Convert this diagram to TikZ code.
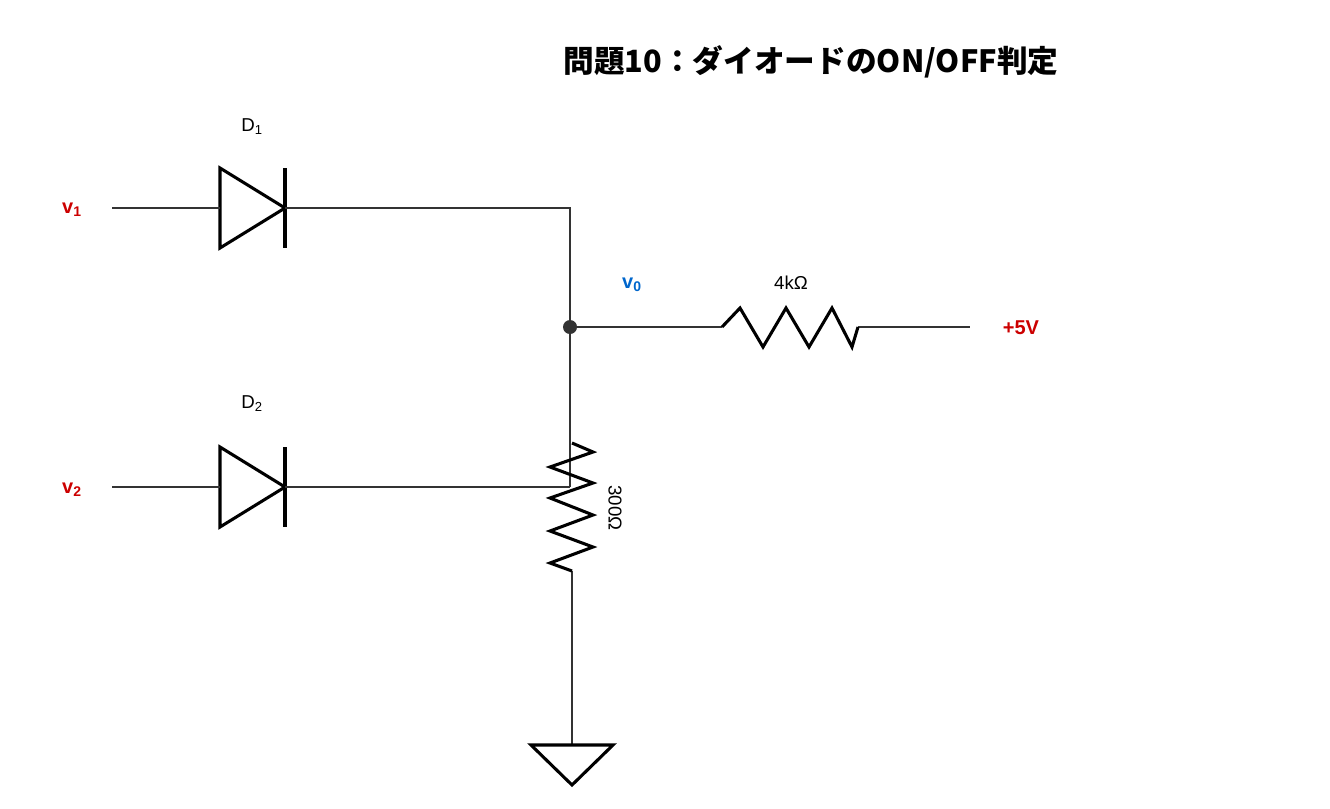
\documentclass[tikz,border=0pt]{standalone}
\usepackage{fontspec}
\setmainfont{Liberation Sans}
\newfontfamily\cjk{Noto Sans CJK JP}
\definecolor{vblue}{RGB}{0,102,204}
\definecolor{vred}{RGB}{204,0,0}
\tikzset{
  wire/.style={line width=2.1pt, draw=black!80},
  part/.style={line width=2.3pt, draw=black, line join=miter},
  lbl/.style={font=\fontsize{14}{16}\selectfont},
  sig/.style={font=\bfseries\fontsize{15}{17}\selectfont},
}
\begin{document}
\begin{tikzpicture}[x=0.75pt,y=-0.75pt]
                \useasboundingbox (0,0) rectangle (1330,808);
                % title
                \node[font=\cjk\bfseries\fontsize{23}{26}\selectfont] (title) at (811,62) {問題10：ダイオードのON/OFF判定};

                % points
                \coordinate (in1) at (112,208);
                \coordinate (a1) at (220,208);
                \coordinate (k1) at (285,208);
                \coordinate (c1) at (570,208);
                \coordinate (in2) at (112,487);
                \coordinate (a2) at (220,487);
                \coordinate (k2) at (285,487);
                \coordinate (c2) at (570,487);
                \coordinate (vo) at (570,327);
                \coordinate (ra) at (722,327);
                \coordinate (rb) at (858,327);
                \coordinate (vp) at (970,327);
                \coordinate (rt) at (572,443);
                \coordinate (rbot) at (572,571);
                \coordinate (gnd) at (572,745);

                % diodes
                \draw[part] (a1) ++(0,-40) -- ++(0,80) -- (k1) -- cycle;
                \draw[part] (k1) ++(0,-40) -- ++(0,80);
                \draw[part] (a2) ++(0,-40) -- ++(0,80) -- (k2) -- cycle;
                \draw[part] (k2) ++(0,-40) -- ++(0,80);

                % wires
                \draw[wire] (in1) -- (a1);
                \draw[wire] (k1) -- (c1) -- (vo) -- (c2);
                \draw[wire] (in2) -- (a2);
                \draw[wire] (k2) -- (c2);
                \draw[wire] (vo) -- (ra);
                \draw[wire] (rb) -- (vp);
                \draw[wire] (rbot) -- (gnd);
                \fill[black!80] (vo) circle (7);

                % 4k resistor
                \draw[part] (ra) -- ++(18,-19) -- ++(23,39) -- ++(23,-39) -- ++(23,39) -- ++(23,-39) -- ++(20,39) -- (rb);
                % 300 resistor
                \draw[part] (rt) -- ++(21,9) -- ++(-43,15) -- ++(43,16) -- ++(-43,15) -- ++(43,17) -- ++(-43,16) -- ++(43,16) -- ++(-43,16) -- (rbot);

                % ground
                \draw[part] (gnd) ++(-41,0) -- ++(82,0) -- ++(-41,40) -- cycle;

                % labels
                \node[lbl] (d1) at (252,127) {D\textsubscript{1}};
                \node[lbl] (d2) at (252,404) {D\textsubscript{2}};
                \node[lbl] (r4k) at (791,283) {4kΩ};
                \node[lbl, rotate=-90] (r300) at (615,508) {300Ω};
                \node[sig, vred] (v1) at (72,210) {v\textsubscript{1}};
                \node[sig, vred] (v2) at (72,490) {v\textsubscript{2}};
                \node[sig, vblue] (v0) at (632,285) {v\textsubscript{0}};
                \node[sig, vred] (p5) at (1021,328) {+5V};
\end{tikzpicture}
\end{document}
